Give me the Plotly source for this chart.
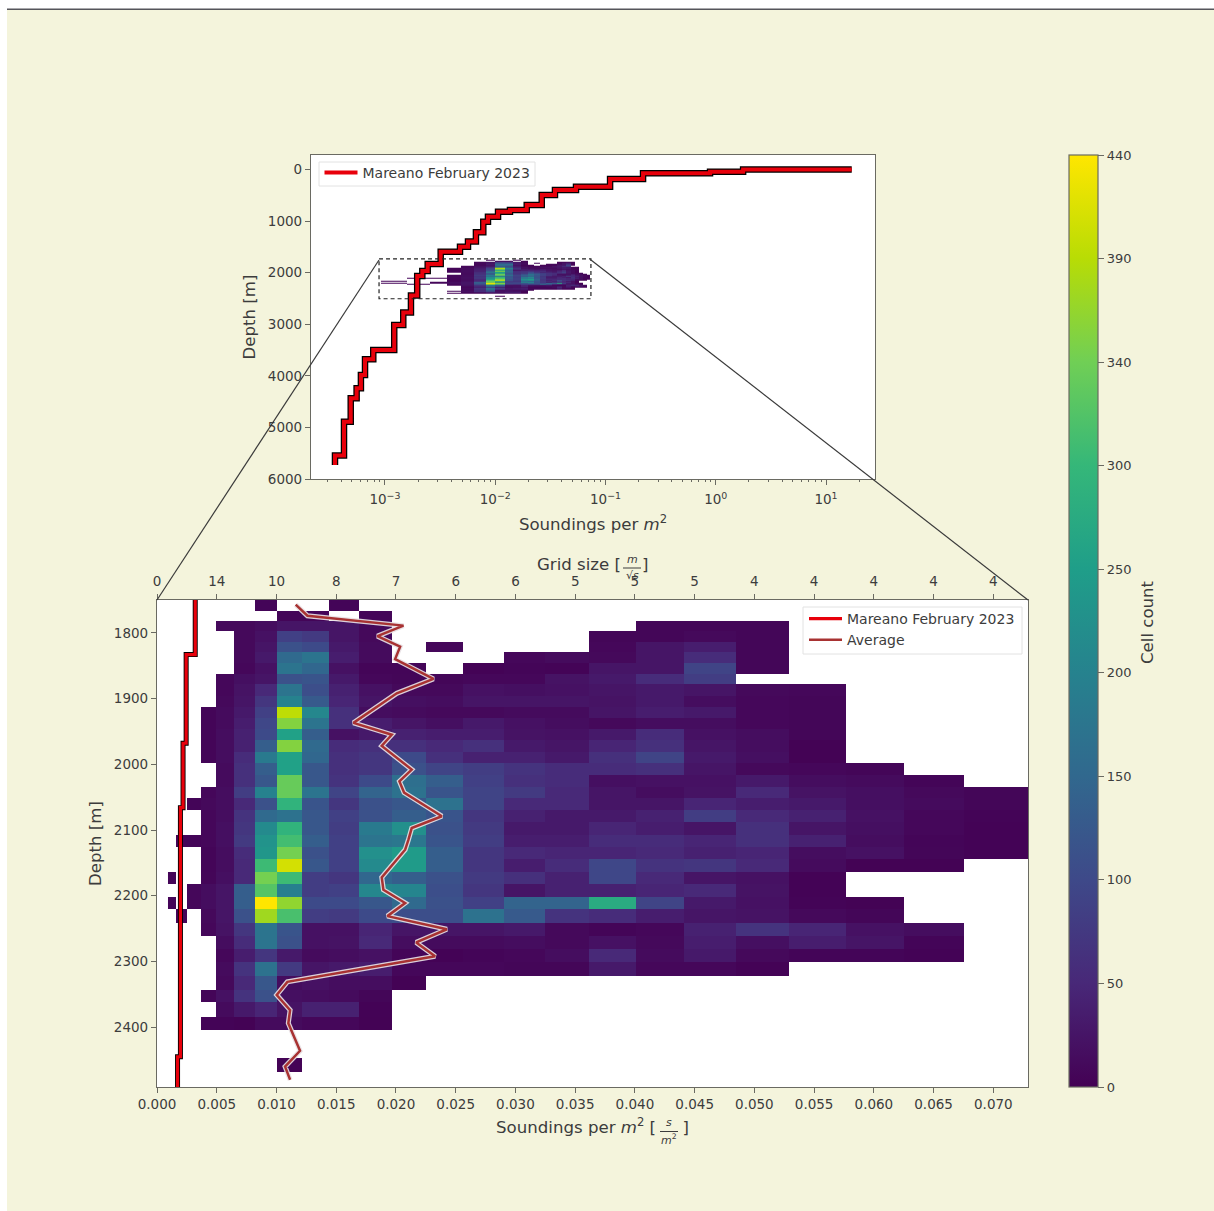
import plotly.graph_objects as go

W, H = 1214, 1211
N = None

# Bin edges of the 2D histogram
soundings_edges = [.00092, .00159, .00254, .00366, .00494, .00645, .00818, .01002, .01214, .01443, .01694, .01968,
                   .02252, .02565, .02900, .03249, .03615, .04005, .04413, .04842, .05289, .05763, .06255, .06757, .0730]
depth_edges = [1750, 1766, 1781.7, 1797, 1813.2, 1829.4, 1845.2, 1862.4, 1878, 1895.4, 1912.2, 1929.4, 1945.7, 1962.9,
               1980.7, 1998.3, 2016.1, 2033.9, 2051.6, 2069.4, 2088.1, 2107.5, 2125.3, 2144.4, 2163.3, 2182.5, 2202.3,
               2220.5, 2240.9, 2260.7, 2281, 2300.3, 2322.1, 2343.4, 2362.1, 2384, 2404.3, 2425.6, 2446.9, 2468.2, 2491]

# First occupied column of each depth row, then the cell counts from that column
row_starts = [6, 7, 4, 5, 5, 5, 5, 4, 4, 4, 3, 3, 3, 3, 3, 4, 4, 3, 2, 3, 3, 1, 3, 3, 0, 2, 0, 1, 3, 4, 4, 4, 4, 3, 4, 3, 0, 0, 7, 0]
row_counts = [
    [5, N, N, 5],
    [5, 5, N, 5],
    [10, 10, 15, 25, 25, 25, 10, N, N, N, N, N, N, 6, 6, 6],
    [10, 20, 85, 75, 25, 10, N, N, N, N, N, 6, 6, 10, 6],
    [10, 25, 110, 100, 30, 12, N, 8, N, N, N, 8, 25, 35, 6],
    [10, 30, 150, 170, 35, 12, N, N, N, 8, 12, 10, 25, 55, 6],
    [8, 20, 170, 145, 20, 5, 5, N, 3, 5, 4, 25, 25, 90, 6],
    [8, 18, 25, 110, 115, 30, 8, 6, 6, 8, 8, 22, 30, 55, 80],
    [8, 22, 50, 170, 105, 40, 20, 10, 10, 20, 18, 20, 25, 30, 25, 10, 8],
    [10, 25, 70, 195, 125, 45, 25, 18, 15, 25, 25, 25, 22, 30, 15, 8, 6],
    [5, 12, 30, 85, 395, 205, 60, 15, 12, 10, 10, 12, 12, 25, 35, 30, 8, 6],
    [5, 12, 35, 95, 355, 170, 60, 35, 25, 18, 30, 20, 15, 10, 15, 15, 8, 6],
    [5, 15, 40, 100, 250, 130, 20, 30, 40, 35, 35, 22, 20, 30, 55, 20, 15, 6],
    [5, 15, 40, 130, 355, 150, 55, 60, 60, 50, 60, 30, 25, 45, 60, 25, 15, 2],
    [5, 15, 55, 180, 250, 145, 60, 70, 100, 60, 40, 40, 30, 60, 90, 30, 18, 2],
    [12, 60, 130, 250, 120, 60, 70, 110, 90, 80, 65, 55, 55, 60, 25, 10, 8, 6],
    [12, 60, 120, 335, 120, 65, 100, 160, 130, 85, 60, 55, 18, 20, 20, 30, 15, 12, 5],
    [8, 15, 80, 195, 335, 170, 90, 140, 165, 115, 90, 75, 50, 25, 15, 22, 50, 22, 18, 10, 6],
    [5, 10, 15, 50, 110, 285, 115, 70, 110, 120, 165, 90, 50, 50, 25, 25, 45, 35, 30, 18, 12, 6],
    [8, 15, 65, 150, 165, 120, 85, 110, 130, 115, 70, 40, 30, 30, 40, 80, 50, 40, 20, 8, 4],
    [8, 18, 70, 210, 285, 120, 80, 180, 220, 110, 75, 30, 30, 45, 35, 25, 60, 25, 18, 8, 3],
    [5, 5, 8, 18, 75, 225, 305, 130, 85, 170, 175, 115, 80, 35, 35, 55, 55, 45, 60, 40, 15, 5, 3],
    [5, 15, 55, 230, 345, 110, 85, 220, 240, 130, 70, 50, 45, 45, 50, 40, 45, 15, 20, 6, 3],
    [5, 15, 50, 300, 410, 120, 85, 210, 240, 130, 70, 35, 55, 95, 65, 70, 50, 12, 2, 2],
    [5, N, N, 6, 18, 50, 345, 300, 80, 70, 145, 130, 110, 75, 60, 40, 95, 50, 25, 20, 3],
    [8, 15, 25, 130, 320, 190, 80, 85, 205, 200, 105, 70, 25, 40, 40, 45, 50, 22, 3],
    [5, N, 8, 15, 25, 130, 440, 365, 100, 100, 120, 150, 110, 85, 140, 140, 270, 90, 30, 20, 4, 2],
    [5, N, 10, 25, 110, 375, 310, 80, 75, 100, 105, 105, 165, 125, 65, 55, 35, 25, 22, 10, 6],
    [8, 22, 70, 170, 115, 20, 20, 45, 25, 25, 25, 30, 10, 5, 8, 40, 65, 45, 20, 15],
    [15, 55, 170, 110, 20, 22, 50, 15, 12, 12, 15, 10, 20, 10, 35, 18, 35, 25, 5],
    [8, 35, 70, 30, 12, 15, 20, 5, 3, 5, 8, 15, 50, 12, 30, 10, 5, 5, 3],
    [12, 65, 165, 75, 25, 30, 35, 8, 8, 8, 6, 6, 30, 8, 8, 3],
    [10, 50, 120, 15, 20, 15, 15, 2],
    [5, 20, 65, 110, 18, 15, 12, 6],
    [12, 30, 45, 22, 40, 40, 3],
    [4, 4, 2, 12, 12, 8, 8, 2],
    [],
    [],
    [3],
    [],
]

# Mareano February 2023 step curve (deep to shallow)
mareano_soundings = [.000352, .000425, .000489, .000553, .000605, .000659, .000783, .001213, .001465, .00172, .00196,
                     .00218, .00244, .0032, .00479, .00566, .00668, .00779, .00859, .0106, .0136, .0193, .0264, .0348,
                     .0540, .110, .219, .887, 1.77, 17.1]
mareano_depth = [5727, 5546, 4888, 4434, 4240, 3983, 3678, 3498, 3014, 2775, 2445, 2066, 1968, 1833, 1593, 1496, 1399,
                 1217, 1012, 915, 818, 785, 688, 494, 397, 333, 184, 74, 43, 0]

# Average curve
average_soundings = [.01161, .01259, .02063, .01845, .02035, .01993, .02314, .02007, .01644, .01965, .01881, .02132,
                     .02029, .02068, .02384, .02132, .02104, .02077, .01881, .01895, .02077, .01928, .02426, .02169,
                     .02328, .01091, .01002, .01114, .01099, .01197, .01072, .01114]
average_depth = [1757, 1774, 1789, 1805, 1821, 1840, 1870, 1892, 1937, 1955, 1972, 2008, 2026, 2043, 2079, 2097, 2115,
                 2130, 2172, 2191, 2211, 2231, 2251, 2271, 2292, 2331, 2351, 2374, 2394, 2436, 2460, 2480]

depth_ticks_main = [1800, 1900, 2000, 2100, 2200, 2300, 2400]
depth_ticks_inset = [0, 1000, 2000, 3000, 4000, 5000, 6000]
soundings_ticks = [0, .005, .01, .015, .02, .025, .03, .035, .04, .045, .05, .055, .06, .065, .07]
grid_labels = ["0", "14", "10", "8", "7", "6", "6", "5", "5", "5", "4", "4", "4", "4", "4"]
log_ticks = [.001, .01, .1, 1, 10]
log_labels = ["10<sup>\u22123</sup>", "10<sup>\u22122</sup>", "10<sup>\u22121</sup>", "10<sup>0</sup>", "10<sup>1</sup>"]
log_minor = [m * 10 ** e for e in range(-4, 2) for m in range(2, 10)]
cbar_ticks = [0, 48.9, 97.8, 146.7, 195.6, 244.4, 293.3, 342.2, 391.1, 440]
cbar_labels = ["0", "50", "100", "150", "200", "250", "300", "340", "390", "440"]

cells = []
for start, vals in zip(row_starts, row_counts):
    row = [N] * 24
    row[start:start + len(vals)] = vals
    cells.append(row)

BG = "#f4f4dc"
INK = "#3c3c3c"
AXIS = "#6a6a62"
FONT = "DejaVu Sans"
FRAME = dict(showline=True, linecolor=AXIS, linewidth=1.2, mirror=True, ticks="outside", ticklen=5, tickwidth=1,
             tickcolor=AXIS, showgrid=False, zeroline=False, tickfont=dict(family=FONT, size=13.5, color=INK))
TITLE = dict(family=FONT, size=16.6, color=INK)
LABEL = "Mareano February 2023"
SCALE = [[0, "#440154"], [.111, "#482878"], [.222, "#3e4989"], [.333, "#31688e"], [.444, "#26828e"], [.556, "#1f9e89"],
         [.667, "#35b779"], [.778, "#70cf55"], [.889, "#b8dc05"], [1, "#ffe600"]]


def px(x):
    return x / W


def py(y):
    return 1 - y / H


fig = go.Figure()
# Main panel
fig.add_trace(go.Heatmap(x=soundings_edges, y=depth_edges, z=cells, coloraxis="coloraxis", xaxis="x", yaxis="y",
                         hoverongaps=False))
fig.add_trace(go.Scatter(x=mareano_soundings, y=mareano_depth, mode="lines", line=dict(color="black", width=5, shape="vh"),
                         showlegend=False, xaxis="x", yaxis="y"))
fig.add_trace(go.Scatter(x=mareano_soundings, y=mareano_depth, mode="lines", name=LABEL,
                         line=dict(color="#e8000b", width=3.2, shape="vh"), xaxis="x", yaxis="y", legend="legend"))
fig.add_trace(go.Scatter(x=average_soundings, y=average_depth, mode="lines", line=dict(color="rgba(232,225,228,0.92)", width=5),
                         showlegend=False, xaxis="x", yaxis="y"))
fig.add_trace(go.Scatter(x=average_soundings, y=average_depth, mode="lines", name="Average",
                         line=dict(color="#a83232", width=2.5), xaxis="x", yaxis="y", legend="legend"))
# Dummy trace keeps the upper (grid size) axis alive
fig.add_trace(go.Scatter(x=[soundings_ticks[0]], y=[depth_ticks_main[0]], mode="markers", marker=dict(opacity=0),
                         showlegend=False, xaxis="x3", yaxis="y", hoverinfo="skip"))
# Inset panel
fig.add_trace(go.Heatmap(x=soundings_edges, y=depth_edges, z=cells, coloraxis="coloraxis", xaxis="x2", yaxis="y2",
                         hoverongaps=False))
fig.add_trace(go.Scatter(x=mareano_soundings, y=mareano_depth, mode="lines", line=dict(color="black", width=6.5, shape="vh"),
                         showlegend=False, xaxis="x2", yaxis="y2"))
fig.add_trace(go.Scatter(x=mareano_soundings, y=mareano_depth, mode="lines", name=LABEL,
                         line=dict(color="#e8000b", width=4, shape="vh"), xaxis="x2", yaxis="y2", legend="legend2"))

legend_style = dict(bgcolor="rgba(0,0,0,0)", borderwidth=0, xanchor="left", yanchor="top",
                    font=dict(family=FONT, size=14, color=INK), itemwidth=33, tracegroupgap=0)

NB = "\u00a0"
fig.update_layout(
    width=W, height=H, autosize=False, margin=dict(l=0, r=0, t=0, b=0, pad=0, autoexpand=False),
    paper_bgcolor=BG, plot_bgcolor="white", font=dict(family=FONT, color=INK),
    coloraxis=dict(colorscale=SCALE, cmin=0, cmax=440, colorbar=dict(
        x=px(1069), xanchor="left", xpad=0, y=py(155), yanchor="top", ypad=0, len=932 / H, lenmode="fraction",
        thickness=29, thicknessmode="pixels", outlinecolor=AXIS, outlinewidth=1.2,
        tickmode="array", tickvals=cbar_ticks, ticktext=cbar_labels, ticks="outside", ticklen=6, tickcolor=AXIS,
        tickfont=dict(family=FONT, size=13, color=INK))),
    xaxis=dict(FRAME, domain=[px(157), px(1028)], range=[0, .0729], anchor="y", tickmode="array", tickvals=soundings_ticks,
               tickformat=".3f", title=dict(text="Soundings per <i>m</i><sup>2</sup> [" + NB * 5 + "]", font=TITLE, standoff=10)),
    yaxis=dict(FRAME, domain=[py(1087), py(600)], range=[2491, 1750], anchor="x", tickmode="array", tickvals=depth_ticks_main,
               title=dict(text="Depth [m]", font=TITLE, standoff=8)),
    xaxis3=dict(FRAME, overlaying="x", anchor="y", side="top", range=[0, .0729], tickmode="array", tickvals=soundings_ticks,
                ticktext=grid_labels, mirror=False, ticklabelstandoff=3),
    xaxis2=dict(FRAME, domain=[px(311), px(875)], type="log", range=[-3.671, 1.444], anchor="y2", tickmode="array",
                tickvals=log_ticks, ticktext=log_labels, ticklabelstandoff=3,
                minor=dict(ticks="outside", ticklen=2, tickcolor=AXIS, tickmode="array", tickvals=log_minor),
                title=dict(text="Soundings per <i>m</i><sup>2</sup>", font=TITLE, standoff=12)),
    yaxis2=dict(FRAME, domain=[py(479), py(155)], range=[6000, -280], anchor="x2", tickmode="array", tickvals=depth_ticks_inset,
                title=dict(text="Depth [m]", font=TITLE, standoff=8)),
    legend=dict(legend_style, x=px(804), y=py(603)),
    legend2=dict(legend_style, x=px(319.5), y=py(157)),
)

# Legend frames
for x0, y0, x1, y1 in ((803, 607, 1022, 654), (319, 162, 535, 186)):
    fig.add_shape(type="rect", xref="paper", yref="paper", x0=px(x0), x1=px(x1), y0=py(y0), y1=py(y1),
                  fillcolor="rgba(255,255,255,0.8)", line=dict(color="#e2e2e2", width=1), layer="above")
# Zoom box and connectors
fig.add_shape(type="rect", xref="x2", yref="y2", x0=soundings_edges[0] * .96, x1=soundings_edges[-1] * 1.01, y0=depth_edges[0] - 15,
              y1=depth_edges[-1] + 15, line=dict(color="#222222", width=1.2, dash="4px,3px"), layer="above")
for a, b in (((379, 260), (157, 600)), ((591, 260), (1028, 600))):
    fig.add_shape(type="line", xref="paper", yref="paper", x0=px(a[0]), y0=py(a[1]), x1=px(b[0]), y1=py(b[1]),
                  line=dict(color="#3a3a3a", width=1.2), layer="above")
# Upper axis title
fig.add_annotation(x=px(593), y=py(564), xref="paper", yref="paper", text="Grid size [" + NB * 4 + "]", showarrow=False,
                   xanchor="center", yanchor="middle", font=TITLE, borderpad=0)
# Fraction parts of the unit labels
for (cx, top, mid, bot, topt, bott) in ((669, 1122, 1131.5, 1139, "<i>s</i>", "<i>m</i><sup>2</sup>"),
                                        (632, 559, 568, 576, "<i>m</i>", "\u221a<i>s</i>")):
    for yy, tt in ((top, topt), (bot, bott)):
        fig.add_annotation(x=px(cx), y=py(yy), xref="paper", yref="paper", text=tt, showarrow=False, xanchor="center",
                           yanchor="middle", font=dict(family=FONT, size=11, color=INK), borderpad=0)
    fig.add_shape(type="line", xref="paper", yref="paper", x0=px(cx - 9), x1=px(cx + 9), y0=py(mid), y1=py(mid),
                  line=dict(color=INK, width=1))
# Colour bar title
fig.add_annotation(x=px(1147), y=py(622), xref="paper", yref="paper", text="Cell count", textangle=-90, showarrow=False,
                   xanchor="center", yanchor="middle", font=TITLE)
# Page border of the photographed figure
fig.add_shape(type="rect", xref="paper", yref="paper", x0=0, x1=1, y0=py(9), y1=1, fillcolor="white", line_width=0, layer="above")
fig.add_shape(type="rect", xref="paper", yref="paper", x0=0, x1=px(7), y0=0, y1=1, fillcolor="white", line_width=0, layer="above")
fig.add_shape(type="line", xref="paper", yref="paper", x0=px(7), x1=1, y0=py(9.2), y1=py(9.2), line=dict(color="#55555a", width=1.4), layer="above")

fig.write_html("out.html", config=dict(displayModeBar=False),
               post_script="document.body.style.margin='0';document.body.style.overflow='hidden';")
